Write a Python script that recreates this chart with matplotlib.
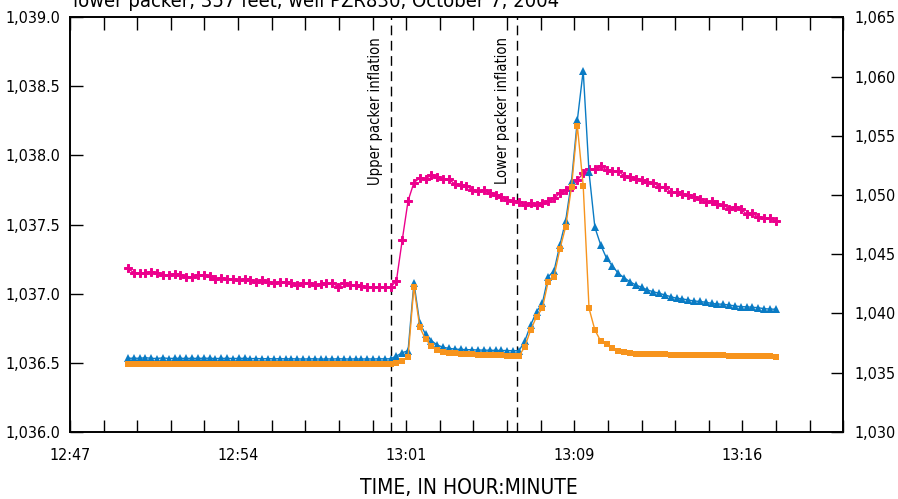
import numpy as np
import matplotlib
matplotlib.use("Agg")
import matplotlib.pyplot as plt
from matplotlib.ticker import FixedLocator, FuncFormatter

plt.rcParams['font.family'] = ['DejaVu Sans']
plt.rcParams['font.stretch'] = 'condensed'

# sample times (15 s readings)
times = [
    "12:50:00", "12:50:15", "12:50:30", "12:50:45", "12:51:00", "12:51:15", "12:51:30", "12:51:45",
    "12:52:00", "12:52:15", "12:52:30", "12:52:45", "12:53:00", "12:53:15", "12:53:30", "12:53:45",
    "12:54:00", "12:54:15", "12:54:30", "12:54:45", "12:55:00", "12:55:15", "12:55:30", "12:55:45",
    "12:56:00", "12:56:15", "12:56:30", "12:56:45", "12:57:00", "12:57:15", "12:57:30", "12:57:45",
    "12:58:00", "12:58:15", "12:58:30", "12:58:45", "12:59:00", "12:59:15", "12:59:30", "12:59:45",
    "13:00:00", "13:00:15", "13:00:30", "13:00:45", "13:01:00", "13:01:15", "13:01:30", "13:01:45",
    "13:02:00", "13:02:15", "13:02:30", "13:02:45", "13:03:00", "13:03:15", "13:03:30", "13:03:45",
    "13:04:00", "13:04:15", "13:04:30", "13:04:45", "13:05:00", "13:05:15", "13:05:30", "13:05:45",
    "13:06:00", "13:06:15", "13:06:30", "13:06:45", "13:07:00", "13:07:15", "13:07:30", "13:07:45",
    "13:08:00", "13:08:15", "13:08:30", "13:08:45", "13:09:00", "13:09:15", "13:09:30", "13:09:45",
    "13:10:00", "13:10:15", "13:10:30", "13:10:45", "13:11:00", "13:11:15", "13:11:30", "13:11:45",
    "13:12:00", "13:12:15", "13:12:30", "13:12:45", "13:13:00", "13:13:15", "13:13:30", "13:13:45",
    "13:14:00", "13:14:15", "13:14:30", "13:14:45", "13:15:00", "13:15:15", "13:15:30", "13:15:45",
    "13:16:00", "13:16:15", "13:16:30", "13:16:45", "13:17:00", "13:17:15", "13:17:30", "13:17:45",
]

# magenta series, left axis
upper = [
    1037.183, 1037.151, 1037.151, 1037.151, 1037.156, 1037.151, 1037.134, 1037.137, 1037.144, 1037.134,
    1037.122, 1037.122, 1037.134, 1037.134, 1037.127, 1037.108, 1037.113, 1037.103, 1037.103, 1037.096,
    1037.103, 1037.098, 1037.082, 1037.096, 1037.084, 1037.077, 1037.084, 1037.084, 1037.075, 1037.062,
    1037.079, 1037.079, 1037.062, 1037.069, 1037.074, 1037.077, 1037.050, 1037.074, 1037.064, 1037.062,
    1037.055, 1037.048, 1037.048, 1037.048, 1037.045, 1037.045, 1037.093, 1037.388, 1037.672, 1037.803,
    1037.837, 1037.832, 1037.856, 1037.842, 1037.827, 1037.827, 1037.793, 1037.784, 1037.779, 1037.750,
    1037.740, 1037.750, 1037.730, 1037.716, 1037.701, 1037.677, 1037.670, 1037.665, 1037.641, 1037.654,
    1037.641, 1037.654, 1037.670, 1037.690, 1037.726, 1037.750, 1037.774, 1037.822, 1037.871, 1037.900,
    1037.902, 1037.924, 1037.895, 1037.887, 1037.886, 1037.853, 1037.846, 1037.829, 1037.822, 1037.806,
    1037.803, 1037.774, 1037.774, 1037.733, 1037.738, 1037.721, 1037.714, 1037.701, 1037.683, 1037.661,
    1037.670, 1037.649, 1037.641, 1037.614, 1037.625, 1037.610, 1037.576, 1037.581, 1037.552, 1037.545,
    1037.545, 1037.525,
]

# blue series, right axis
between = [
    1036.20, 1036.21, 1036.20, 1036.25, 1036.20, 1036.18, 1036.24, 1036.18, 1036.20, 1036.20,
    1036.19, 1036.20, 1036.19, 1036.21, 1036.20, 1036.18, 1036.19, 1036.20, 1036.18, 1036.19,
    1036.20, 1036.17, 1036.18, 1036.16, 1036.17, 1036.15, 1036.17, 1036.15, 1036.16, 1036.15,
    1036.14, 1036.15, 1036.16, 1036.13, 1036.15, 1036.14, 1036.16, 1036.15, 1036.14, 1036.15,
    1036.14, 1036.15, 1036.14, 1036.16, 1036.15, 1036.16, 1036.39, 1036.67, 1036.84, 1042.58,
    1039.16, 1038.23, 1037.69, 1037.32, 1037.13, 1037.04, 1036.98, 1036.95, 1036.93, 1036.92,
    1036.90, 1036.89, 1036.88, 1036.87, 1036.86, 1036.85, 1036.84, 1036.84, 1037.66, 1039.01,
    1040.14, 1040.84, 1043.09, 1043.57, 1045.77, 1047.82, 1051.17, 1056.33, 1060.49, 1051.91,
    1047.26, 1045.77, 1044.65, 1044.00, 1043.38, 1043.01, 1042.67, 1042.39, 1042.20, 1041.97,
    1041.82, 1041.69, 1041.55, 1041.40, 1041.27, 1041.22, 1041.12, 1041.04, 1041.00, 1040.93,
    1040.84, 1040.79, 1040.76, 1040.70, 1040.62, 1040.56, 1040.55, 1040.51, 1040.47, 1040.39,
    1040.36, 1040.34,
]

# orange series, right axis
lower = [
    1035.74, 1035.73, 1035.75, 1035.76, 1035.74, 1035.75, 1035.74, 1035.73, 1035.74, 1035.72,
    1035.73, 1035.72, 1035.73, 1035.72, 1035.74, 1035.72, 1035.71, 1035.73, 1035.72, 1035.71,
    1035.72, 1035.73, 1035.71, 1035.72, 1035.71, 1035.72, 1035.73, 1035.72, 1035.74, 1035.73,
    1035.72, 1035.71, 1035.70, 1035.71, 1035.70, 1035.71, 1035.70, 1035.69, 1035.70, 1035.71,
    1035.70, 1035.69, 1035.70, 1035.71, 1035.70, 1035.72, 1035.78, 1036.00, 1036.33, 1042.25,
    1038.82, 1037.80, 1037.26, 1036.90, 1036.76, 1036.67, 1036.62, 1036.58, 1036.56, 1036.54,
    1036.52, 1036.50, 1036.48, 1036.46, 1036.44, 1036.42, 1036.40, 1036.39, 1037.18, 1038.59,
    1039.71, 1040.42, 1042.67, 1043.09, 1045.41, 1047.31, 1050.69, 1055.82, 1050.78, 1040.42,
    1038.59, 1037.66, 1037.38, 1037.04, 1036.84, 1036.71, 1036.67, 1036.60, 1036.57, 1036.56,
    1036.55, 1036.55, 1036.54, 1036.50, 1036.49, 1036.48, 1036.48, 1036.47, 1036.47, 1036.46,
    1036.45, 1036.44, 1036.44, 1036.43, 1036.42, 1036.42, 1036.41, 1036.40, 1036.40, 1036.38,
    1036.37, 1036.30,
]

# events
event_times = ["13:01:15", "13:06:41"]
event_labels = ["Upper packer inflation", "Lower packer inflation"]

# x axis in fraction of a day (spreadsheet style)
x_ticks = [0.533, 0.538, 0.543, 0.548, 0.553]
x_tick_labels = ["12:47", "12:54", "13:01", "13:09", "13:16"]
x_minor = [0.533 + 0.001 * k for k in range(24)]
left_ticks = [1036.0, 1036.5, 1037.0, 1037.5, 1038.0, 1038.5, 1039.0]
right_ticks = [1030, 1035, 1040, 1045, 1050, 1055, 1060, 1065]

title = "lower packer, 357 feet, well PZR830, October 7, 2004"


def to_day(s):
    h, m, sec = [int(v) for v in s.split(":")]
    return (h * 3600 + m * 60 + sec) / 86400.0


t = np.array([to_day(s) for s in times])

fig = plt.figure(figsize=(8.98, 4.99), dpi=100)
ax = fig.add_axes([70 / 898, 1 - 431.7 / 499, 773.3 / 898, 414.4 / 499])
ax2 = ax.twinx()

ax.plot(t, upper, color="#EC008C", lw=1.0, marker="P", markersize=5.5,
        markeredgewidth=0.7, zorder=3)
ax2.plot(t, between, color="#0A7BC4", lw=1.0, marker="^", markersize=6,
         markeredgewidth=0, zorder=3)
ax2.plot(t, lower, color="#F7941D", lw=1.0, marker="s", markersize=4.8,
         markeredgewidth=0, zorder=4)

for et, lab in zip(event_times, event_labels):
    xe = to_day(et)
    ax.axvline(xe, color="black", lw=1.0, ls=(0, (7, 4)), zorder=2)
    ax.annotate(lab, xy=(xe, 1.0), xycoords=("data", "axes fraction"),
                xytext=(-5.5, -14.5), textcoords="offset points",
                rotation=90, ha="right", va="top", fontsize=10.5)

ax.set_xlim(0.533, 0.556)
ax.set_ylim(1036.0, 1039.0)
ax2.set_ylim(1030, 1065)

ax.xaxis.set_major_locator(FixedLocator(x_ticks))
ax.xaxis.set_minor_locator(FixedLocator(x_minor))
ax.set_xticklabels(x_tick_labels)
ax.set_yticks(left_ticks)
ax.yaxis.set_major_formatter(FuncFormatter(lambda v, p: f"{v:,.1f}"))
ax2.set_yticks(right_ticks)
ax2.yaxis.set_major_formatter(FuncFormatter(lambda v, p: f"{v:,.0f}"))

for a in (ax, ax2):
    for sp in a.spines.values():
        sp.set_linewidth(1.2)
ax.tick_params(axis="x", which="both", direction="in", top=True, length=9,
               width=1.0, pad=12, labelsize=11.5)
ax.tick_params(axis="y", direction="in", length=9, width=1.0, pad=7,
               labelsize=11.5)
ax2.tick_params(axis="y", direction="in", length=9, width=1.0, pad=8,
                labelsize=11.5)

ax.set_xlabel("TIME, IN HOUR:MINUTE", fontsize=15)
ax.xaxis.set_label_coords((469 - 70) / 773.3, -0.112)
fig.text(73 / 898, 1 - 7 / 499, title, fontsize=14.5, ha="left",
         va="baseline")

fig.savefig("out.png", dpi=100)
